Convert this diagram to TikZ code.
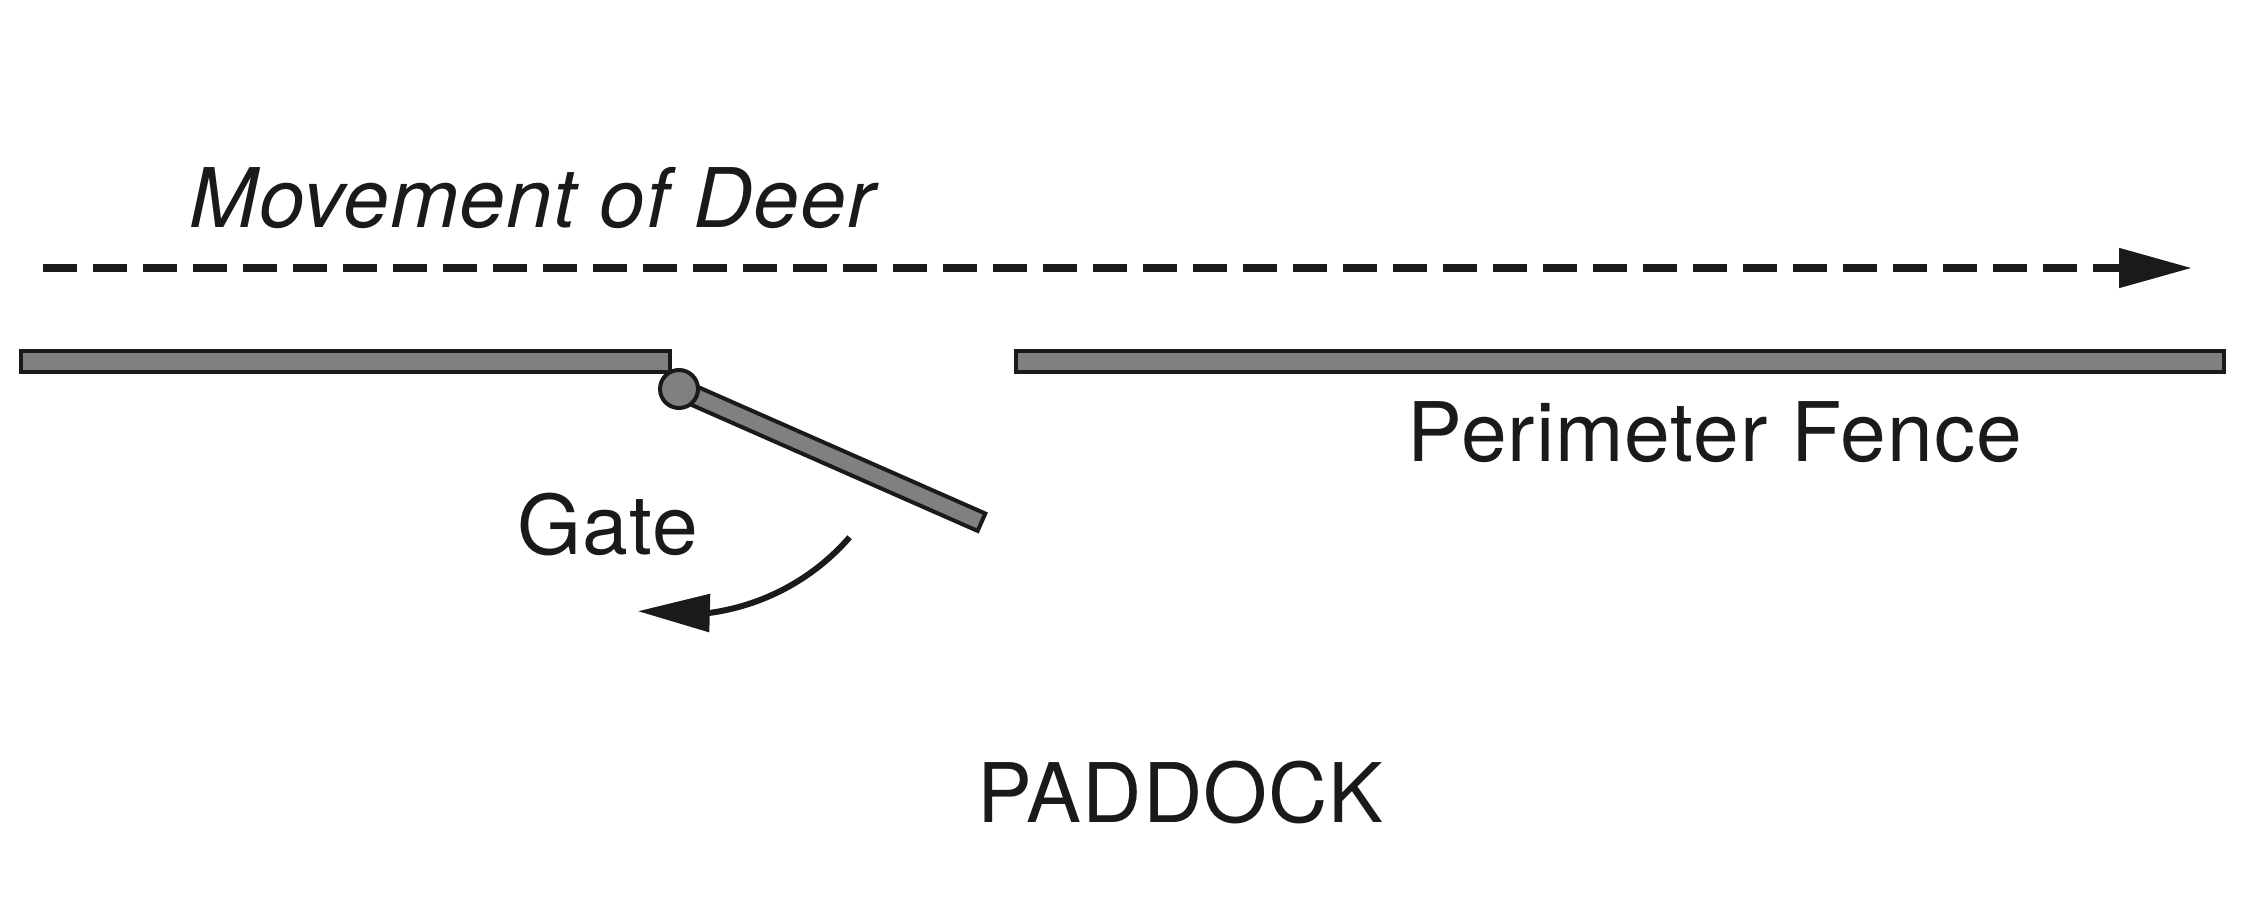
\documentclass[tikz,border=0pt]{standalone}
\usepackage{fontspec}
\setmainfont[LetterSpace=1.2]{TeX Gyre Heros}
\usetikzlibrary{arrows.meta,bending}
\definecolor{ink}{HTML}{1A1A1A}
\definecolor{rail}{HTML}{808080}
\begin{document}
\begin{tikzpicture}[
  fencebar/.style={draw=ink, fill=rail, line width=0.04cm},
  deerpath/.style={draw=ink, line width=0.08cm, dash pattern=on 0.34cm off 0.16cm, -{Triangle[length=0.73cm,width=0.38cm]}},
  swing/.style={draw=ink, line width=0.06cm, -{Triangle[length=0.72cm,width=0.37cm,flex]}},
  lbl/.style={text=ink, inner sep=0pt, anchor=base west, font=\fontsize{23.4}{28}\selectfont}
]
\useasboundingbox (0,0) rectangle (22.5,9);

% movement of deer
\coordinate (deerA) at (0.43,6.32);
\coordinate (deerB) at (21.92,6.32);
\draw[deerpath] (deerA) -- (deerB);
\node[lbl] (movement) at (1.89,6.73) {\itshape Movement of Deer};

% fences
\draw[fencebar] (0.213,5.487) rectangle (6.697,5.277);
\draw[fencebar] (10.163,5.487) rectangle (22.24,5.277);

% gate
\coordinate (hinge) at (6.79,5.11);
\begin{scope}[shift={(hinge)}, rotate=-23.77]
  \draw[fencebar] (0,-0.095) rectangle (3.305,0.095);
\end{scope}
\draw[fencebar] (hinge) circle[radius=0.19];

% swing arrow
\draw[swing] ([shift={(-41:2.26)}]hinge) arc[start angle=-41, end angle=-100.5, radius=2.26];

% labels
\node[lbl] (fencelabel) at (14.07,4.39) {Perimeter Fence};
\node[lbl] (gatelabel) at (5.17,3.46) {Gate};
\node[lbl] (paddock) at (9.77,0.78) {PADDOCK};
\end{tikzpicture}
\end{document}
